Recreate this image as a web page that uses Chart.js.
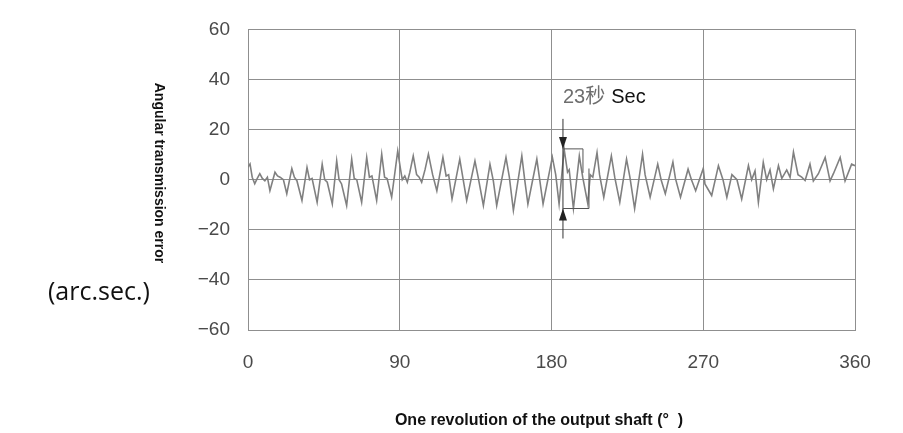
<!DOCTYPE html>
<html>
<head>
<meta charset="utf-8">
<script src="https://cdn.jsdelivr.net/npm/chart.js@4.4.1/dist/chart.umd.min.js"></script>
<style>
  html, body { margin: 0; padding: 0; background: #fff; }
  #wrap { width: 903px; height: 433px; }
</style>
</head>
<body>
<div id="wrap"><canvas id="myChart"></canvas></div>
<script>
// setup - values (degrees / arc.sec.)
const angles = [
  0, 1.2, 2.5, 4, 5.5, 7, 8.5, 10, 11.5, 13, 16, 17.5, 19, 21, 23, 26, 27.5, 29, 32, 35,
  36.5, 38, 41, 44, 45.5, 47, 50, 52.6, 54, 55.5, 58.5, 61.5, 63, 64.5, 67.4, 70.4, 72, 73.5, 76.3, 79.3,
  81, 82.5, 85.2, 88.8,
  90.5, 91.5, 93, 94.5, 96, 98, 100, 101.5, 103, 105, 107, 109.5, 112, 115.6, 117.5, 119, 121, 125.6, 127.5, 129.7,
  134.6, 136.5, 139.6, 143.5, 145.5, 147.5, 153, 155, 157.4, 162.4, 164, 166, 171.3, 173, 175, 180.5,
  182.5, 184.5, 187.5, 189.5, 190.5, 193, 196.5, 198.5, 201.5, 203, 204.5, 207, 208.5, 211, 215.5, 217.5, 220.5, 224.5,
  226.5, 229.3, 234, 235.5, 238.5, 243, 245, 247.5, 252, 253.5, 256.5, 261, 263, 265.5, 270,
  271, 275, 279, 281.7, 284, 287, 290, 292.8, 296.8, 298.7, 300.7, 302.7, 305.6, 307.6, 309.6, 311.6, 314.6, 316.6,
  319.5, 321.5, 323.5, 326.2, 328.4, 330.4, 333.3, 335.3, 338.3, 342.3, 345.2, 347.2, 351.2, 354.1, 358, 360
];
const errors = [
  5, 6.3, 1, -1.6, 0.5, 2.4, 0.5, -0.4, 1, -4.4, 3, 1.5, 1, 0, -5.6, 4.4, 1, -0.4, -8.3, 4.9,
  0, 0.5, -9, 6.2, 0, -1, -9.7, 7.5, 0, -1.7, -10.3, 8.2, 0.5, 0, -9, 8.9, 1, 1.5, -8.3, 10.2,
  1, 0.5, -7, 11.5,
  4, 0, 1.5, -1, 3, 9.5, 2, 1, -1, 4, 10.2, 2, -4.4, 8.9, 1.5, 2, -7.7, 8.2, 0.5, -8.3,
  7.5, 1, -10.3, 6.2, -0.5, -10.3, 8.9, 1, -12.3, 9.5, 0.5, -9.7, 8.2, 0, -9.7, 9,
  2, -9.7, 12.2, 3, 4, -11.5, 9.5, 1, -9.5, 2, 1, 10.8, 2, -7, 9.5, 1, -9, 8.2,
  1, -11.5, 10.2, 2, -7, 6.2, 0, -5.6, 7, 0.5, -7, 4.2, 0, -4.4, 4.5,
  -1.7, -6.3, 5.6, 0, -7, 2, 0, -7.7, 5.6, 0, 3.5, -9, 6.9, 0, 3.9, -3.7, 5.6, 0.5,
  3.9, 0.9, 11, 2, 1, -0.3, 6.2, -0.5, 2.4, 8.9, -0.5, 2.4, 8.9, -0.5, 6.2, 5.6
];
const xTicks = [0, 90, 180, 270, 360];
const yTicks = [60, 40, 20, 0, -20, -40, -60];

// peak-to-peak marker
const markAngle = 186.8;
const markHigh = 12.3;
const markLow = -11.5;
const markLabel = ['23秒', 'Sec'];

const points = angles.map((a, i) => ({ x: a, y: errors[i] }));

// texts + marker drawn on top
const extras = {
  id: 'extras',
  afterDatasetsDraw(chart) {
    const ctx = chart.ctx;
    const xs = chart.scales.x, ys = chart.scales.y;
    const px = xs.getPixelForValue(markAngle);
    const yHi = ys.getPixelForValue(markHigh);
    const yLo = ys.getPixelForValue(markLow);
    ctx.save();
    ctx.strokeStyle = '#333';
    ctx.fillStyle = '#222';
    ctx.lineWidth = 1;
    // stem
    ctx.beginPath();
    ctx.moveTo(px, yHi - 30);
    ctx.lineTo(px, yLo + 30);
    ctx.stroke();
    // arrow heads
    ctx.beginPath();
    ctx.moveTo(px - 4, yHi - 12); ctx.lineTo(px + 4, yHi - 12); ctx.lineTo(px, yHi);
    ctx.closePath(); ctx.fill();
    ctx.beginPath();
    ctx.moveTo(px - 4, yLo + 12); ctx.lineTo(px + 4, yLo + 12); ctx.lineTo(px, yLo);
    ctx.closePath(); ctx.fill();
    // brackets
    ctx.strokeStyle = '#555';
    ctx.beginPath();
    ctx.moveTo(px, yHi); ctx.lineTo(px + 20, yHi); ctx.lineTo(px + 20, yHi + 24);
    ctx.moveTo(px, yLo); ctx.lineTo(px + 26, yLo); ctx.lineTo(px + 26, yLo - 40);
    ctx.stroke();
    // label
    ctx.textBaseline = 'middle';
    ctx.textAlign = 'left';
    ctx.font = '20px "Liberation Sans", Arial, "Noto Sans CJK SC"';
    ctx.fillStyle = '#6e6e6e';
    ctx.fillText(markLabel[0], px, 97);
    const w = ctx.measureText(markLabel[0]).width;
    ctx.fillStyle = '#111';
    ctx.fillText(markLabel[1], px + w + 6, 97);
    ctx.restore();
  },
  afterDraw(chart) {
    const ctx = chart.ctx;
    ctx.save();
    ctx.fillStyle = '#111';
    ctx.textBaseline = 'middle';
    ctx.textAlign = 'center';
    ctx.font = 'bold 16px "Liberation Sans", Arial';
    ctx.fillText('One revolution of the output shaft (°  )', 539, 421);
    ctx.save();
    ctx.translate(159, 173);
    ctx.rotate(Math.PI / 2);
    ctx.font = 'bold 14px "Liberation Sans", Arial';
    ctx.fillText('Angular transmission error', 0, 0);
    ctx.restore();
    ctx.textAlign = 'left';
    ctx.font = '25px "Open Sans"';
    ctx.fillText('(arc.sec.)', 48, 293);
    ctx.restore();
  }
};

// config
const config = {
  type: 'line',
  data: {
    datasets: [{
      label: 'error',
      data: points,
      borderColor: '#808080',
      borderWidth: 1.6,
      pointRadius: 0,
      tension: 0,
      fill: false
    }]
  },
  options: {
    animation: false,
    responsive: true,
    maintainAspectRatio: false,
    devicePixelRatio: 1,
    layout: { padding: { left: 0, right: 48, top: 28, bottom: 0 } },
    plugins: { legend: { display: false }, tooltip: { enabled: false } },
    scales: {
      x: {
        type: 'linear',
        min: 0,
        max: 360,
        afterBuildTicks: (s) => { s.ticks = xTicks.map(v => ({ value: v })); },
        afterFit: (s) => { s.height = 103; },
        ticks: { color: '#4a4a4a', font: { size: 19, family: '"Liberation Sans", Arial' }, padding: 21, maxRotation: 0 },
        grid: { color: '#8f8f8f', drawTicks: false },
        border: { color: '#8f8f8f' }
      },
      y: {
        min: -60,
        max: 60,
        afterBuildTicks: (s) => { s.ticks = yTicks.map(v => ({ value: v })); },
        afterFit: (s) => { s.width = 248; },
        ticks: {
          color: '#4a4a4a',
          font: { size: 19, family: '"Liberation Sans", Arial' },
          padding: 18,
          callback: (v) => v < 0 ? '\u2212' + Math.abs(v) : String(v)
        },
        grid: { color: '#8f8f8f', drawTicks: false },
        border: { color: '#8f8f8f' }
      }
    }
  },
  plugins: [extras]
};

// render init block
const myChart = new Chart(document.getElementById('myChart'), config);
</script>
</body>
</html>
